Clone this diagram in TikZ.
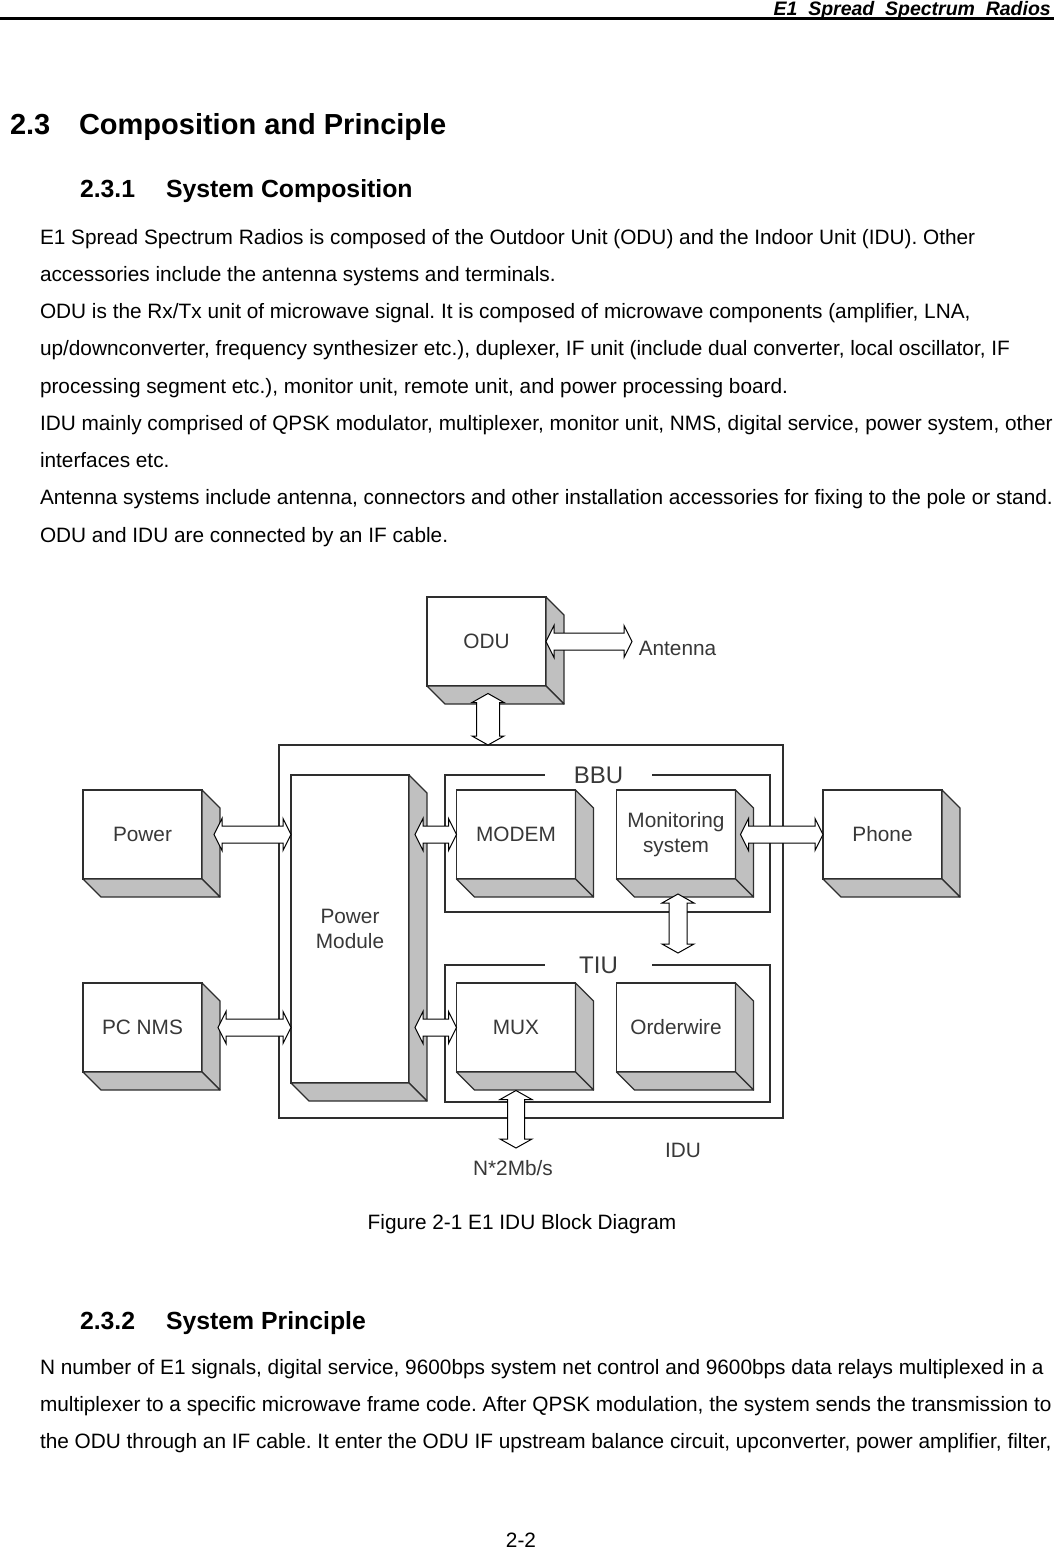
\documentclass[tikz,border=0pt]{standalone}
\usepackage{fontspec}
\setmainfont{Liberation Sans}
\usetikzlibrary{calc}
\frenchspacing
\definecolor{sidegray}{HTML}{C0C0C0}
\definecolor{lbl}{HTML}{383838}
\definecolor{edge}{HTML}{2E2E2E}
\newcommand\cubefaces[1]{%
  \filldraw[face] (#1.north east) -- ($(#1.north east)+(18,18)$) -- ($(#1.south east)+(18,18)$) -- (#1.south east) -- cycle;
  \filldraw[face] (#1.south west) -- (#1.south east) -- ($(#1.south east)+(18,18)$) -- ($(#1.south west)+(18,18)$) -- cycle;}
% horizontal double arrow: #1 left tip, #2 right tip, #3 shaft half width
\newcommand\HArr[3]{%
  \filldraw[arr] let \p1=#1, \p2=#2 in
  (\x1,\y1) -- (\x1+8pt,\y1+16pt) -- (\x1+8pt,\y1+#3) -- (\x2-8pt,\y1+#3) -- (\x2-8pt,\y1+16pt) -- (\x2,\y1)
  -- (\x2-8pt,\y1-16pt) -- (\x2-8pt,\y1-#3) -- (\x1+8pt,\y1-#3) -- (\x1+8pt,\y1-16pt) -- cycle;}
% vertical double arrow: #1 top tip, #2 bottom tip, #3 shaft half width
\newcommand\VArr[3]{%
  \filldraw[arr] let \p1=#1, \p2=#2 in
  (\x1,\y1) -- (\x1+16pt,\y1-9pt) -- (\x1+#3,\y1-9pt) -- (\x1+#3,\y2+9pt) -- (\x1+16pt,\y2+9pt) -- (\x1,\y2)
  -- (\x1-16pt,\y2+9pt) -- (\x1-#3,\y2+9pt) -- (\x1-#3,\y1-9pt) -- (\x1-16pt,\y1-9pt) -- cycle;}
\begin{document}
\begin{tikzpicture}[x=1pt,y=-1pt,
  txt/.style={anchor=base west, inner sep=0, outer sep=0, font=\fontsize{20.8}{25}\selectfont},
  hthree/.style={anchor=base west, inner sep=0, outer sep=0, font=\bfseries\fontsize{24.8}{30}\selectfont},
  htwo/.style={anchor=base west, inner sep=0, outer sep=0, font=\bfseries\fontsize{29}{34}\selectfont},
  cube/.style={draw=edge, line width=1.3, fill=white, inner sep=0, outer sep=0,
    minimum width=119, minimum height=89, text=lbl, align=center,
    font=\fontsize{20.8}{25.5}\selectfont},
  face/.style={draw=edge, line width=1.3, fill=sidegray, line join=round},
  arr/.style={draw=black, line width=1, fill=white, line join=miter},
  group/.style={draw=edge, line width=1.6, inner sep=0, outer sep=0, minimum width=325, minimum height=137},
  glabel/.style={fill=white, inner sep=0, minimum width=107, minimum height=20, text=lbl,
    font=\fontsize{24}{28}\selectfont},
  dlabel/.style={inner sep=0, text=lbl, font=\fontsize{20.8}{25}\selectfont}
]
\useasboundingbox (0,0) rectangle (1054,1553);
\fill[white] (0,0) rectangle (1054,1553);

% running header
\node[anchor=base east, inner sep=0, font=\bfseries\itshape\fontsize{19.5}{24}\selectfont] (hdr) at (1051,15)
  {E1\hspace{0.55em}Spread\hspace{0.55em}Spectrum\hspace{0.55em}Radios};
\draw[line width=2.6] (0,18.5) -- (1054,18.5);

% headings
\node[htwo] (h23n) at (10,134) {2.3};
\node[htwo] (h23t) at (79,134) {Composition and Principle};
\node[hthree] (h231n) at (80,197) {2.3.1};
\node[hthree] (h231t) at (166,197) {System Composition};

% body text
\node[txt] (l1) at (40,244) {E1 Spread Spectrum Radios is composed of the Outdoor Unit (ODU) and the Indoor Unit (IDU). Other};
\node[txt] (l2) at (40,281.25) {accessories include the antenna systems and terminals.};
\node[txt] (l3) at (40,318.5) {ODU is the Rx/Tx unit of microwave signal. It is composed of microwave components (amplifier, LNA,};
\node[txt] (l4) at (40,355.75) {up/downconverter, frequency synthesizer etc.), duplexer, IF unit (include dual converter, local oscillator, IF};
\node[txt] (l5) at (40,393) {processing segment etc.), monitor unit, remote unit, and power processing board.};
\node[txt] (l6) at (40,430.25) {IDU mainly comprised of QPSK modulator, multiplexer, monitor unit, NMS, digital service, power system, other};
\node[txt] (l7) at (40,467.5) {interfaces etc.};
\node[txt] (l8) at (40,504.75) {Antenna systems include antenna, connectors and other installation accessories for fixing to the pole or stand.};
\node[txt] (l9) at (40,542) {ODU and IDU are connected by an IF cable.};

% ---------------- diagram ----------------
\node[draw=edge, line width=1.8, inner sep=0, outer sep=0, minimum width=504, minimum height=373] (idu) at (531,931.5) {};
\node[group] (bbu) at (607.5,843.5) {};
\node[group] (tiu) at (607.5,1033.5) {};
\node[glabel] (bbul) at (598.5,775) {BBU};
\node[glabel] (tiul) at (598.5,965) {TIU};

\node[cube] (odu) at (486.5,641.5) {ODU};
\node[cube, minimum width=118, minimum height=308] (pm) at (350,929) {Power\\Module};
\node[cube] (modem) at (516,834.5) {MODEM};
\node[cube] (mon) at (676,834.5) {Monitoring\\system};
\node[cube] (mux) at (516,1027.5) {MUX};
\node[cube] (ow) at (676,1027.5) {Orderwire};
\node[cube] (power) at (142.5,834.5) {Power};
\node[cube] (pcnms) at (142.5,1027.5) {PC NMS};
\node[cube] (phone) at (882.5,834.5) {Phone};
\foreach \n in {odu,pm,modem,mon,mux,ow,power,pcnms,phone} {\cubefaces{\n}}

\node[dlabel] (ant) at (677.5,648.5) {Antenna};
\node[dlabel] (nlab) at (513,1168) {N*2Mb/s};
\node[dlabel] (idul) at (683,1150) {IDU};

% connector end points
\coordinate (antT) at (632,641.5);
\coordinate (oduT) at ($(odu.south)+(1.5,7.5)$);
\coordinate (iduT) at (oduT |- idu.north);
\coordinate (powT) at ($(power.east)+(12,0)$);
\coordinate (pmP) at (pm.west |- power.east);
\coordinate (pmM0) at (pm.east |- modem.west);
\coordinate (pmM) at ($(pmM0)+(6,0)$);
\coordinate (monT) at ($(mon.east)+(5,0)$);
\coordinate (monB) at ($(mon.south)+(2,15)$);
\coordinate (tiuT0) at (monB |- tiu.north);
\coordinate (tiuT) at ($(tiuT0)+(0,-12)$);
\coordinate (pcT) at ($(pcnms.east)+(16,0)$);
\coordinate (pmC) at (pm.west |- pcnms.east);
\coordinate (pmX0) at (pm.east |- mux.west);
\coordinate (pmX) at ($(pmX0)+(6,0)$);
\coordinate (muxT) at ($(mux.south)+(0,18.5)$);
\coordinate (muxB) at (516,1148);

\HArr{(odu.east)}{(antT)}{8.5pt}
\VArr{(oduT)}{(iduT)}{11.5pt}
\HArr{(powT)}{(pmP)}{8.5pt}
\HArr{(pmM)}{(modem.west)}{8.5pt}
\HArr{(monT)}{(phone.west)}{8.5pt}
\VArr{(monB)}{(tiuT)}{9pt}
\HArr{(pcT)}{(pmC)}{8.5pt}
\HArr{(pmX)}{(mux.west)}{8.5pt}
\VArr{(muxT)}{(muxB)}{8.5pt}

% caption and following text
\node[anchor=base, inner sep=0, font=\fontsize{20.8}{25}\selectfont] (cap) at (522,1229.5) {Figure 2-1 E1 IDU Block Diagram};
\node[hthree] (h232n) at (80,1329) {2.3.2};
\node[hthree] (h232t) at (166,1329) {System Principle};
\node[txt] (m1) at (40,1374) {N number of E1 signals, digital service, 9600bps system net control and 9600bps data relays multiplexed in a};
\node[txt] (m2) at (40,1411) {multiplexer to a specific microwave frame code. After QPSK modulation, the system sends the transmission to};
\node[txt] (m3) at (40,1448) {the ODU through an IF cable. It enter the ODU IF upstream balance circuit, upconverter, power amplifier, filter,};
\node[anchor=base, inner sep=0, font=\fontsize{20.8}{25}\selectfont] (pg) at (521,1547) {2-2};
\end{tikzpicture}
\end{document}
